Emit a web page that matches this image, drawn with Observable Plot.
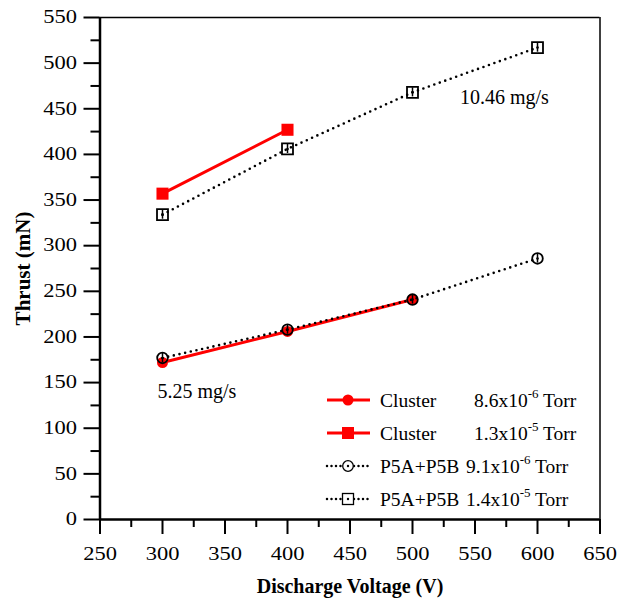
<!DOCTYPE html>
<html><head><meta charset="utf-8">
<script src="https://cdn.jsdelivr.net/npm/d3@7"></script>
<script src="https://cdn.jsdelivr.net/npm/@observablehq/plot@0.6"></script>
<style>body{margin:0;background:#fff} #chart{width:619px;height:601px}</style>
</head><body><div id="chart"></div>
<script>
// ---- data ----
const voltageP5 = [300, 400, 500, 600];
const p5Low = [177, 208, 241, 286];     // P5A+P5B 9.1e-6 Torr (5.25 mg/s)
const p5High = [334, 406, 468, 517];    // P5A+P5B 1.4e-5 Torr (10.46 mg/s)
const voltageClusterLow = [300, 400, 500];
const clusterLow = [172, 206, 241];     // Cluster 8.6e-6 Torr
const voltageClusterHigh = [300, 400];
const clusterHigh = [357, 427];         // Cluster 1.3e-5 Torr
const errorHalf = 5;

const xTicks = [250, 300, 350, 400, 450, 500, 550, 600, 650];
const xMinor = [275, 325, 375, 425, 475, 525, 575, 625];
const yTicks = [0, 50, 100, 150, 200, 250, 300, 350, 400, 450, 500, 550];
const yMinor = [25, 75, 125, 175, 225, 275, 325, 375, 425, 475, 525];

const annotationText = ["10.46 mg/s", "5.25 mg/s"];
const annotationX = [538, 296];
const annotationY = [462, 140];

const legendNames = ["Cluster", "Cluster", "P5A+P5B", "P5A+P5B"];
const legendPressure = ["8.6x10", "1.3x10", "9.1x10", "1.4x10"];
const legendExponent = ["-6", "-5", "-6", "-5"];

// ---- tables ----
const rows = (xs, ys) => xs.map((x, i) => ({x, y: ys[i]}));
const cLow = rows(voltageClusterLow, clusterLow);
const cHigh = rows(voltageClusterHigh, clusterHigh);
const pLow = rows(voltageP5, p5Low);
const pHigh = rows(voltageP5, p5High);
const annotations = annotationText.map((t, i) => ({label: t, x: annotationX[i], y: annotationY[i]}));

const FONT = "Liberation Serif, Times New Roman, serif";
const RED = "#ff0000";
const dotted = {stroke: "#000", strokeWidth: 2.6, strokeDasharray: "0 5.8", strokeLinecap: "round"};
const errBar = (data, color) => Plot.ruleX(data, {x: "x", y1: d => d.y - errorHalf, y2: d => d.y + errorHalf, stroke: color, strokeWidth: 1.5});

const svg = Plot.plot({
  width: 619, height: 601,
  marginLeft: 99.5, marginRight: 19.5, marginTop: 17, marginBottom: 82,
  x: {domain: [250, 650]},
  y: {domain: [0, 550]},
  style: {fontFamily: FONT, fontSize: "18px", color: "#000", background: "#fff", overflow: "visible"},
  marks: [
    Plot.axisX({ticks: xTicks, tickSize: 15, tickPadding: 13, strokeWidth: 2, label: null, tickFormat: d => String(d)}),
    Plot.axisX({ticks: xMinor, tickSize: 8, strokeWidth: 2, label: null, tickFormat: () => ""}),
    Plot.axisY({ticks: yTicks, tickSize: 16, tickPadding: 7, strokeWidth: 2, label: null, tickFormat: d => String(d)}),
    Plot.axisY({ticks: yMinor, tickSize: 9, strokeWidth: 2, label: null, tickFormat: () => ""}),
    Plot.ruleY([550], {strokeWidth: 1.5}),
    Plot.ruleX([650], {strokeWidth: 1.5}),
    Plot.ruleY([0], {strokeWidth: 2.5}),
    Plot.ruleX([250], {strokeWidth: 2.5}),

    // Cluster series (red)
    errBar(cLow, RED),
    Plot.line(cLow, {x: "x", y: "y", stroke: RED, strokeWidth: 3}),
    Plot.dot(cLow, {x: "x", y: "y", symbol: "circle", r: 5.5, fill: RED}),
    errBar(cHigh, RED),
    Plot.line(cHigh, {x: "x", y: "y", stroke: RED, strokeWidth: 3}),
    Plot.dot(cHigh, {x: "x", y: "y", symbol: "square", r: 6.8, fill: RED}),

    // P5A+P5B series (black dotted, open markers)
    Plot.line(pLow, {x: "x", y: "y", ...dotted}),
    errBar(pLow, "#000"),
    Plot.dot(pLow, {x: "x", y: "y", symbol: "circle", r: 5.3, fill: "none", stroke: "#000", strokeWidth: 1.8}),
    Plot.dot(pLow, {x: "x", y: "y", r: 1.3, fill: "#000"}),
    Plot.line(pHigh, {x: "x", y: "y", ...dotted}),
    errBar(pHigh, "#000"),
    Plot.dot(pHigh, {x: "x", y: "y", symbol: "square", r: 6.2, fill: "none", stroke: "#000", strokeWidth: 1.8}),
    Plot.dot(pHigh, {x: "x", y: "y", r: 1.3, fill: "#000"}),

    // annotations
    Plot.text(annotations, {x: "x", y: "y", text: "label", textAnchor: "start", fontSize: 20}),

    // axis titles
    Plot.text(["Thrust (mN)"], {frameAnchor: "left", dx: -77, rotate: -90, textAnchor: "middle", lineAnchor: "middle", fontWeight: "bold", fontSize: 21}),
    Plot.text(["Discharge Voltage (V)"], {frameAnchor: "bottom", dy: 67, textAnchor: "middle", lineAnchor: "middle", fontWeight: "bold", fontSize: 20})
  ]
});

// widen tick labels (reference digits are broad)
d3.select(svg).selectAll('g[aria-label="x-axis tick label"] text, g[aria-label="y-axis tick label"] text')
  .each(function() {
    const t = this.getAttribute("transform") || "";
    this.setAttribute("transform", t + " scale(1.25,1)");
  });

// ---- legend (inside plot, lower right) ----
const lg = d3.select(svg).append("g")
  .attr("font-family", FONT)
  .attr("font-size", 19.5)
  .attr("text-anchor", "start");
const rowY = [400, 433, 466, 499];
const pressX = [474, 474, 466, 466];
legendNames.forEach((name, i) => {
  const y = rowY[i];
  const isRed = i < 2;
  const line = lg.append("line").attr("x1", 327).attr("x2", 370).attr("y1", y).attr("y2", y);
  if (isRed) line.attr("stroke", RED).attr("stroke-width", 3);
  else line.attr("stroke", "#000").attr("stroke-width", 2.5).attr("stroke-dasharray", "0 4.5").attr("stroke-linecap", "round");
  const cx = 348;
  if (i === 0) lg.append("circle").attr("cx", cx).attr("cy", y).attr("r", 5.5).attr("fill", RED);
  if (i === 1) lg.append("rect").attr("x", cx - 6).attr("y", y - 6).attr("width", 12).attr("height", 12).attr("fill", RED);
  if (i === 2) {
    lg.append("circle").attr("cx", cx).attr("cy", y).attr("r", 5.3).attr("fill", "#fff").attr("stroke", "#000").attr("stroke-width", 1.3);
    lg.append("circle").attr("cx", cx).attr("cy", y).attr("r", 1.2).attr("fill", "#000");
  }
  if (i === 3) {
    lg.append("rect").attr("x", cx - 5.5).attr("y", y - 5.5).attr("width", 11).attr("height", 11).attr("fill", "#fff").attr("stroke", "#000").attr("stroke-width", 1.3);
    lg.append("circle").attr("cx", cx).attr("cy", y).attr("r", 1.2).attr("fill", "#000");
  }
  lg.append("text").attr("x", 380).attr("y", y + 7).text(name);
  const t = lg.append("text").attr("x", pressX[i]).attr("y", y + 7);
  t.append("tspan").text(legendPressure[i]);
  t.append("tspan").attr("font-size", 13).attr("dy", -9).text(legendExponent[i]);
  t.append("tspan").attr("dy", 9).text(" Torr");
});

document.getElementById("chart").appendChild(svg);
</script>
</body></html>
